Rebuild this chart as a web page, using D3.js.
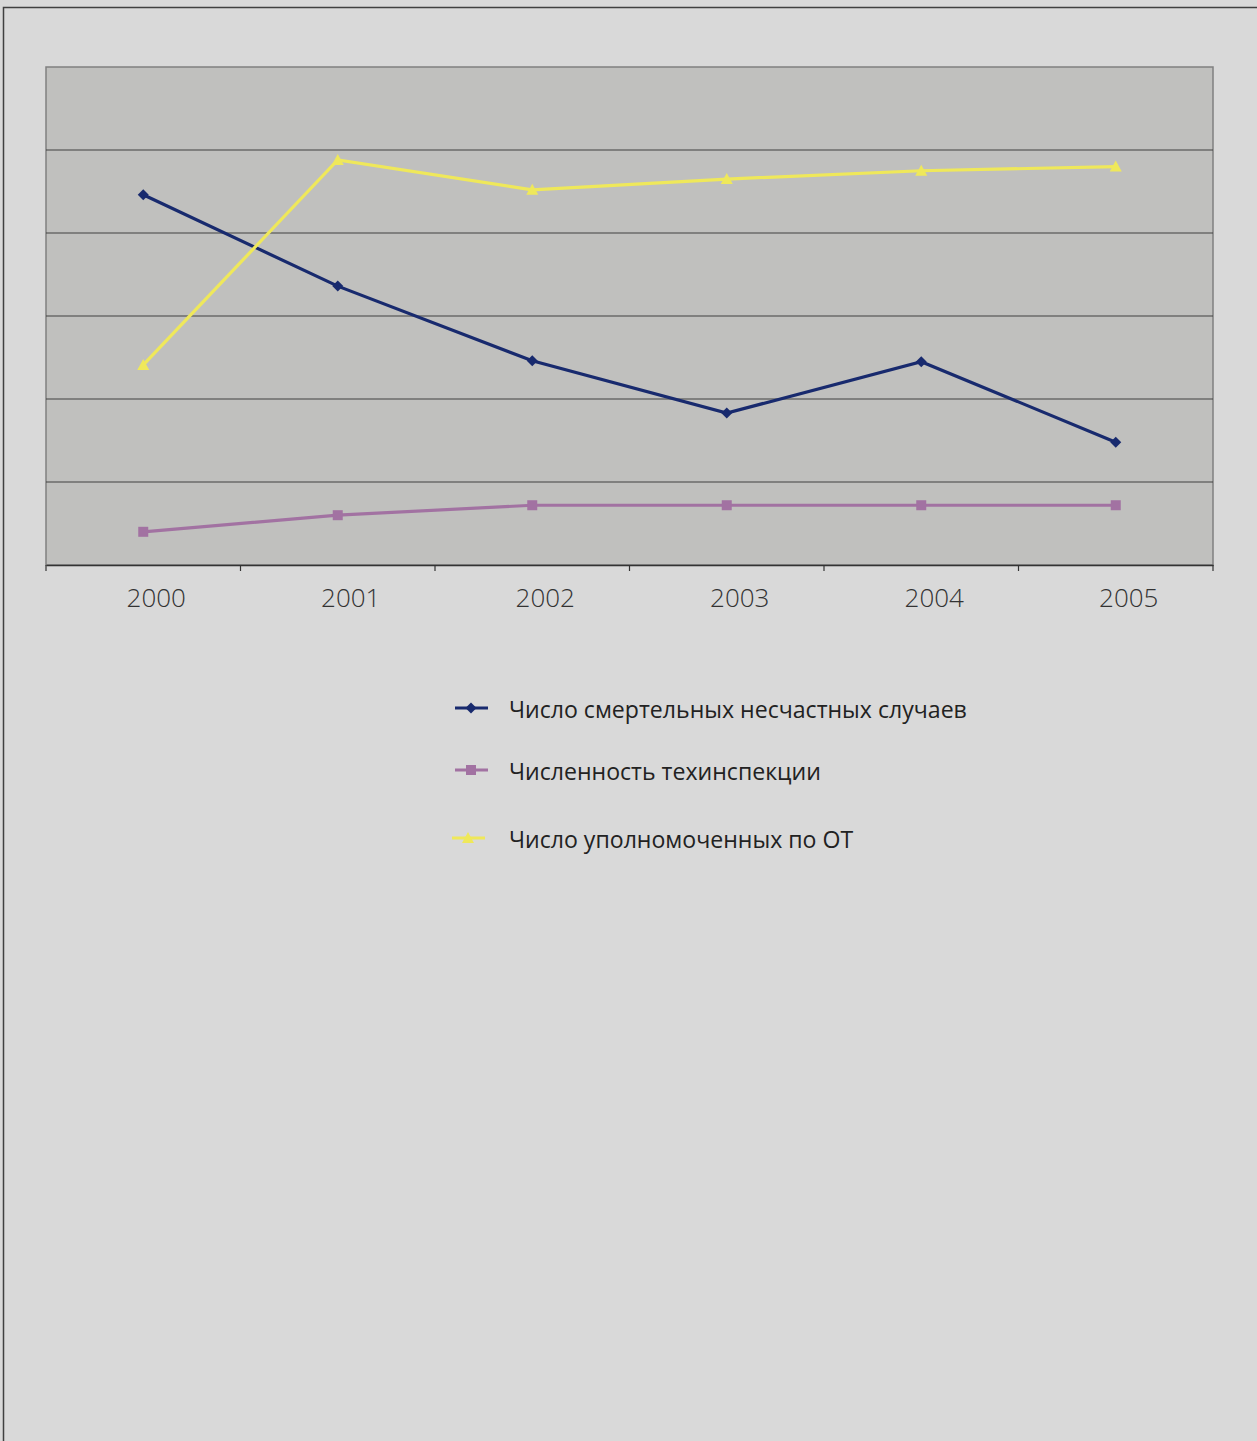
<!DOCTYPE html>
<html><head><meta charset="utf-8">
<script src="https://cdn.jsdelivr.net/npm/d3@7/dist/d3.min.js"></script>
<style>html,body{margin:0;padding:0;background:#d9d9d9;}svg{display:block;}</style>
</head><body>
<script>
const years = ["2000","2001","2002","2003","2004","2005"];
const fatalAccidents = [446, 336, 246, 183, 245, 148];
const inspectorsCount = [40, 60, 72, 72, 72, 72];
const authorizedOT = [241, 488, 452, 465, 475, 480];
const seriesNames = ["Число смертельных несчастных случаев","Численность техинспекции","Число уполномоченных по ОТ"];
const yTicks = [0,100,200,300,400,500,600];

const W=1257,H=1441;
const svg=d3.select("body").append("svg").attr("width",W).attr("height",H);
svg.append("rect").attr("width",W).attr("height",H).attr("fill","#d9d9d9");
svg.append("path").attr("d",`M3.5,${H} V7.5 H${W}`).attr("fill","none").attr("stroke","#404040").attr("stroke-width",1.5);

const L=46,R=1213,T=67,B=565;
const x=d3.scaleBand().domain(years).range([L,R]);
const y=d3.scaleLinear().domain([0,600]).range([B,T]);

svg.append("rect").attr("x",L).attr("y",T).attr("width",R-L).attr("height",B-T).attr("fill","#c0c0be").attr("stroke","#808080").attr("stroke-width",1.5);
svg.append("g").selectAll("line").data(yTicks.slice(1,-1)).join("line")
  .attr("x1",L).attr("x2",R).attr("y1",d=>y(d)).attr("y2",d=>y(d)).attr("stroke","#404040").attr("stroke-width",1.2);

const ax=svg.append("g").attr("transform",`translate(0,${B})`)
  .call(d3.axisBottom(x).tickSize(0).tickFormat(""));
ax.select(".domain").attr("stroke","#333").attr("stroke-width",1.5);
const bounds=years.map(d=>x(d)).concat([R]);
svg.append("g").selectAll("line").data(bounds).join("line")
  .attr("x1",d=>d).attr("x2",d=>d).attr("y1",B).attr("y2",B+6).attr("stroke","#333").attr("stroke-width",1.2);
svg.append("g").selectAll("text").data(years).join("text")
  .attr("x",d=>x(d)+x.bandwidth()/2+13).attr("y",607).attr("text-anchor","middle")
  .attr("font-family","'Open Sans'").attr("font-weight",300).attr("font-size",26).attr("fill","#333").text(d=>d);

const colors=["#182a6e","#a272a2","#efe85a"];
const data=[fatalAccidents,inspectorsCount,authorizedOT];
const cx=d=>x(d)+x.bandwidth()/2;
const line=d3.line().x((v,i)=>cx(years[i])).y(v=>y(v));
function marker(g,k,px,py){
  if(k===0){
    g.append("path").attr("d",`M${px},${py-5.5}L${px+5.5},${py}L${px},${py+5.5}L${px-5.5},${py}Z`).attr("fill",colors[0]);
  } else if(k===1){
    g.append("rect").attr("x",px-5).attr("y",py-5).attr("width",10).attr("height",10).attr("fill",colors[1]);
  } else {
    g.append("path").attr("d",`M${px},${py-6}L${px+6},${py+5}L${px-6},${py+5}Z`).attr("fill",colors[2]);
  }
}
[1,0,2].forEach(k=>{
  const g=svg.append("g");
  g.append("path").attr("d",line(data[k])).attr("fill","none").attr("stroke",colors[k]).attr("stroke-width",3.2);
  data[k].forEach((v,i)=>marker(g,k,cx(years[i]),y(v)));
});

const legY=[708,770,838];
const legX=[455,455,452];
seriesNames.forEach((n,k)=>{
  const g=svg.append("g");
  g.append("line").attr("x1",legX[k]).attr("x2",legX[k]+33).attr("y1",legY[k]).attr("y2",legY[k]).attr("stroke",colors[k]).attr("stroke-width",3.2);
  marker(g,k,legX[k]+16,legY[k]);
  g.append("text").attr("x",509).attr("y",legY[k]+10).attr("font-family","'Open Sans'").attr("font-weight",400)
   .attr("font-size",23.1).attr("fill","#222").text(n);
});
</script>
</body></html>
